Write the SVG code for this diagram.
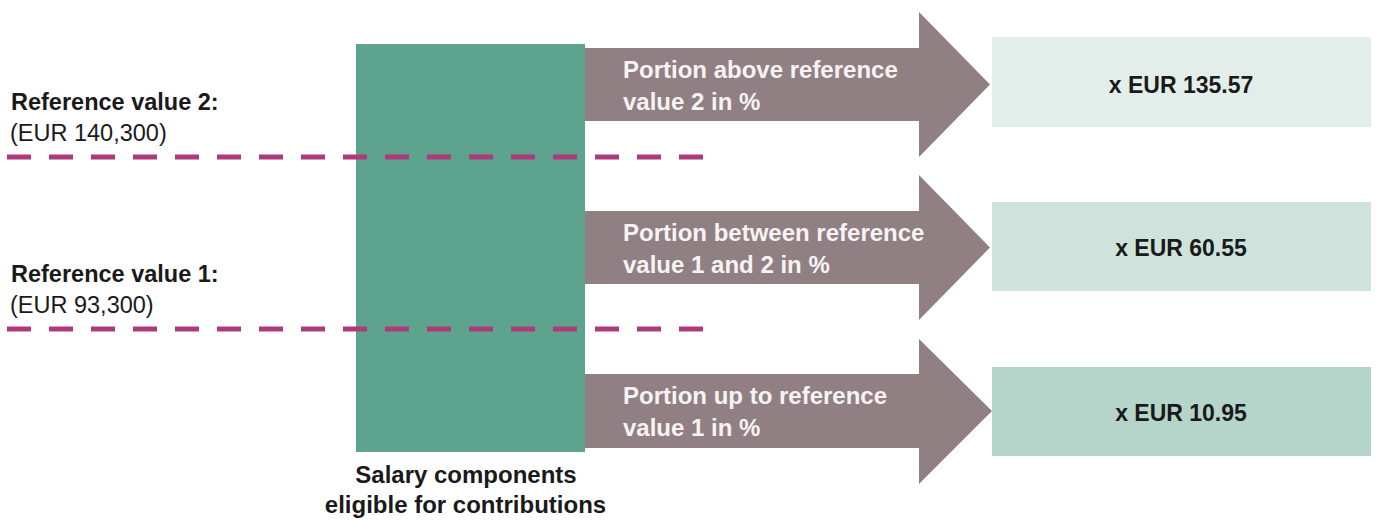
<svg xmlns="http://www.w3.org/2000/svg" width="1376" height="520" viewBox="0 0 1376 520">
<style>
.lbl{font-family:"Liberation Sans",Arial,sans-serif;font-size:23.5px;fill:#1a1a1a}
.b{font-weight:bold}
.bt{font-family:"Liberation Sans",Arial,sans-serif;font-size:24px;font-weight:bold;fill:#1a1a1a;text-anchor:middle}
.at{font-family:"Liberation Sans",Arial,sans-serif;font-size:24px;font-weight:bold;fill:#f7f3f3}
.arrow{fill:#918083}
.dash{stroke:#ad3a7a;stroke-width:5;stroke-dasharray:24 18;fill:none}
.val{font-family:"Liberation Sans",Arial,sans-serif;font-size:23px;font-weight:bold;fill:#1a1a1a;text-anchor:middle}
</style>
<rect width="1376" height="520" fill="#ffffff"/>
<g id="bar">
<rect x="356" y="44" width="229" height="408" fill="#5da38e"/>
<text class="bt" x="466" y="483">Salary components</text>
<text class="bt" x="465.5" y="513">eligible for contributions</text>
</g>
<g id="connectors">
<line class="dash" x1="7" y1="157" x2="703" y2="157"/>
<line class="dash" x1="7" y1="329" x2="703" y2="329"/>
</g>
<g id="ref2">
<text class="lbl b" x="11" y="110">Reference value 2:</text>
<text class="lbl" x="10" y="141">(EUR 140,300)</text>
</g>
<g id="ref1">
<text class="lbl b" x="11" y="282">Reference value 1:</text>
<text class="lbl" x="10" y="313">(EUR 93,300)</text>
</g>
<g id="arrow1">
<polygon class="arrow" points="585,48 919,48 919,12 990,84.5 919,157 919,121 585,121"/>
<text class="at" x="623" y="78">Portion above reference</text>
<text class="at" x="623" y="110">value 2 in %</text>
</g>
<g id="arrow2">
<polygon class="arrow" points="585,211 919,211 919,175 990,247.5 919,320 919,284 585,284"/>
<text class="at" x="623" y="241">Portion between reference</text>
<text class="at" x="623" y="273">value 1 and 2 in %</text>
</g>
<g id="arrow3">
<polygon class="arrow" points="585,374 919,374 919,339 992,411 919,484 919,448 585,448"/>
<text class="at" x="623" y="404">Portion up to reference</text>
<text class="at" x="623" y="436">value 1 in %</text>
</g>
<g id="box1">
<rect x="992" y="37" width="379" height="90" fill="#e3eeea"/>
<text class="val" x="1181" y="93">x EUR 135.57</text>
</g>
<g id="box2">
<rect x="992" y="202" width="379" height="89" fill="#cde3dc"/>
<text class="val" x="1181" y="256">x EUR 60.55</text>
</g>
<g id="box3">
<rect x="992" y="367" width="379" height="89" fill="#b5d4ca"/>
<text class="val" x="1181" y="421">x EUR 10.95</text>
</g>
</svg>
